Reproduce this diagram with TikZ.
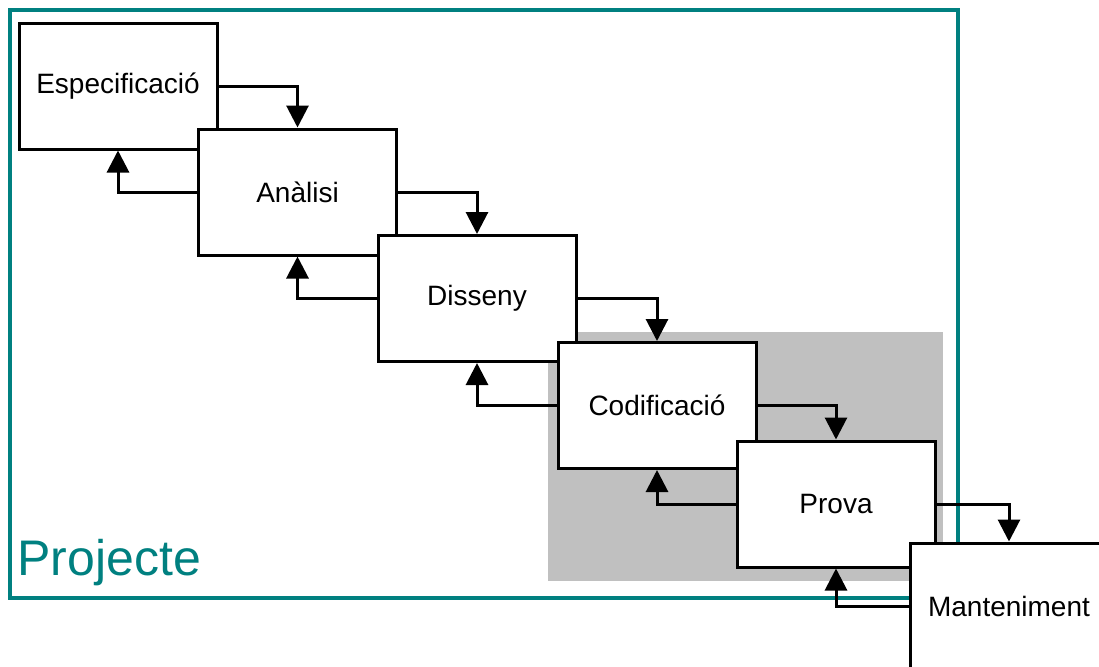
\documentclass[tikz,border=0pt]{standalone}
\usepackage{fontspec}
\setmainfont{Liberation Sans}
\usetikzlibrary{arrows.meta}
\definecolor{projteal}{RGB}{0,128,128}
\definecolor{fasegris}{RGB}{192,192,192}
\begin{document}
\begin{tikzpicture}
[x=0.5pt, y=-0.5pt, font=\fontsize{14}{16}\selectfont]
\tikzstyle{fase}=[rectangle, draw, fill=white, line width=1.5pt, minimum width=99pt, minimum height=63pt, inner sep=0pt]
\tikzstyle{flux}=[line width=1.5pt, -{Triangle[width=11pt,length=11pt]}]
\useasboundingbox (0,0) rectangle (1099,666);
\clip (0,0) rectangle (1099,666);

% marc del projecte
\draw [projteal, line width=1.7pt] (10,10) rectangle (958,598);
\node [projteal, anchor=base west, inner sep=0pt, font=\fontsize{25}{28}\selectfont] (Proj) at (17,575) {Projecte};
\fill [fasegris] (548,332) rectangle (943,581);

\node[fase]	(Esp)	at (118,86)	{Especificació};
\node[fase]	(Ana)	at (297.5,192)	{Anàlisi};
\node[fase]	(Dis)	at (477,298.5)	{Disseny};
\node[fase]	(Cod)	at (657,405.5)	{Codificació};
\node[fase]	(Pro)	at (836,504)	{Prova};
\node[fase]	(Man)	at (1009,606)	{Manteniment};

\draw [flux] (Esp.east) -| (Ana.north);
\draw [flux] (Ana.east) -| (Dis.north);
\draw [flux] (Dis.east) -| (Cod.north);
\draw [flux] (Cod.east) -| (Pro.north);
\draw [flux] (Pro.east) -| (Man.north);

\draw [flux] (Ana.west) -| (Esp.south);
\draw [flux] (Dis.west) -| (Ana.south);
\draw [flux] (Cod.west) -| (Dis.south);
\draw [flux] (Pro.west) -| (Cod.south);
\draw [flux] (Man.west) -| (Pro.south);
\end{tikzpicture}
\end{document}
